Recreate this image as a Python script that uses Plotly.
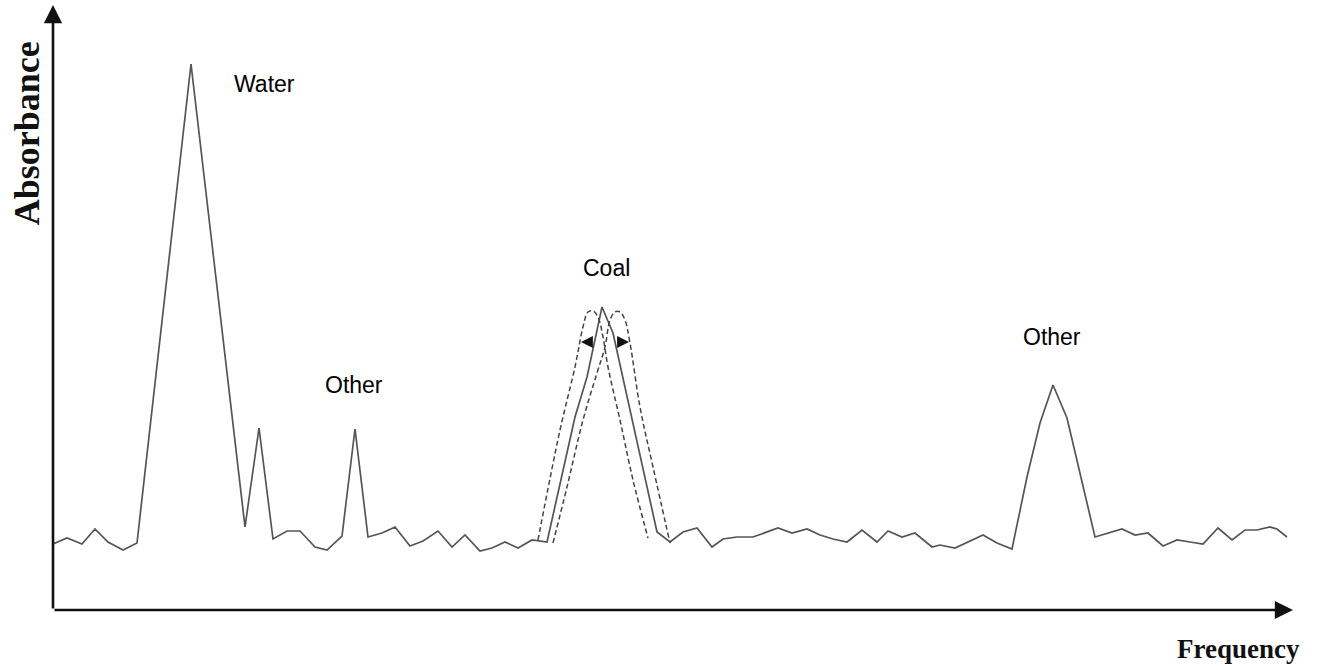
import plotly.graph_objects as go

# Spectrum (arbitrary frequency units, arbitrary absorbance units)
freq = [0.0, 1.4, 2.9, 4.2, 5.5, 7.0, 8.4, 13.8, 19.2, 20.6, 22.0, 23.4, 24.7, 26.2, 27.4, 28.9,
        30.2, 31.5, 32.9, 34.2, 35.7, 37.0, 38.5, 39.9, 41.2, 42.7, 43.9, 45.2, 46.5, 47.9, 49.4,
        52.2, 53.4, 54.9, 56.0, 60.4, 61.7, 63.0, 64.4, 65.9, 67.0, 68.4, 70.0, 71.4, 72.5, 73.9,
        75.4, 76.7, 78.0, 79.4, 80.9, 82.4, 83.5, 84.9, 86.2, 87.9, 88.7, 90.2, 91.5, 93.0, 94.4,
        95.9, 97.4, 98.7, 100.0, 101.4, 104.2, 105.5, 106.9, 108.2, 109.5, 111.0, 112.4, 113.7,
        115.0, 116.5, 117.9, 119.2, 120.4, 121.7, 122.4, 123.4]
absorb = [0.66, 0.72, 0.66, 0.81, 0.68, 0.60, 0.67, 5.46, 0.83, 1.82, 0.71, 0.79, 0.79, 0.63, 0.60, 0.74,
          1.81, 0.73, 0.77, 0.83, 0.64, 0.69, 0.79, 0.63, 0.75, 0.59, 0.62, 0.68, 0.62, 0.70, 0.68,
          1.93, 2.33, 3.03, 2.77, 0.78, 0.68, 0.78, 0.82, 0.63, 0.71, 0.73, 0.73, 0.78, 0.82, 0.77,
          0.81, 0.75, 0.71, 0.68, 0.80, 0.68, 0.79, 0.73, 0.77, 0.63, 0.65, 0.62, 0.68, 0.75, 0.67,
          0.61, 1.33, 1.87, 2.25, 1.92, 0.73, 0.77, 0.81, 0.75, 0.77, 0.64, 0.70, 0.68,
          0.66, 0.82, 0.70, 0.80, 0.80, 0.83, 0.81, 0.73]

# Shifted coal peaks (dashed)
shift_left_f = [48.5, 50.7, 52.2, 53.0, 53.5, 54.0, 54.5, 55.0, 55.5, 56.7, 58.0, 59.5]
shift_left_a = [0.70, 1.80, 2.43, 2.83, 2.98, 2.99, 2.93, 2.73, 2.43, 1.90, 1.30, 0.72]
shift_right_f = [50.0, 51.4, 53.0, 54.4, 55.2, 55.7, 56.2, 56.7, 57.2, 57.7, 58.7, 60.0, 61.7]
shift_right_a = [0.67, 1.23, 1.90, 2.37, 2.63, 2.90, 2.98, 2.98, 2.90, 2.67, 2.03, 1.43, 0.67]

# Labels
label_text = ["Water", "Other", "Coal", "Other"]
label_f = [21.1, 30.1, 55.3, 99.9]
label_a = [5.26, 2.25, 3.42, 2.73]

X_MAX = 124.0
Y_MAX = 6.05

fig = go.Figure()
fig.add_trace(go.Scatter(x=freq, y=absorb, mode="lines",
                         line=dict(color="#555555", width=1.7), hoverinfo="skip"))
for fx, ay in [(shift_left_f, shift_left_a), (shift_right_f, shift_right_a)]:
    fig.add_trace(go.Scatter(x=fx, y=ay, mode="lines", line_shape="spline",
                             line=dict(color="#444444", width=1.5, dash="5px,3px"),
                             hoverinfo="skip"))

ann = []
# axes with arrows
ann.append(dict(x=X_MAX, y=0, ax=0, ay=0, xref="x", yref="y", axref="x", ayref="y",
                showarrow=True, arrowhead=2, arrowsize=1.4, arrowwidth=2.6, arrowcolor="#111111", text=""))
ann.append(dict(x=0, y=Y_MAX, ax=0, ay=0, xref="x", yref="y", axref="x", ayref="y",
                showarrow=True, arrowhead=2, arrowsize=1.4, arrowwidth=2.6, arrowcolor="#111111", text=""))
# small shift arrows
ann.append(dict(x=52.8, y=2.68, ax=53.7, ay=2.68, xref="x", yref="y", axref="x", ayref="y",
                showarrow=True, arrowhead=2, arrowsize=1.7, arrowwidth=1.4, arrowcolor="#111111", text=""))
ann.append(dict(x=57.6, y=2.68, ax=56.7, ay=2.68, xref="x", yref="y", axref="x", ayref="y",
                showarrow=True, arrowhead=2, arrowsize=1.7, arrowwidth=1.4, arrowcolor="#111111", text=""))

sans = "Liberation Sans Narrow, Arial Narrow, Liberation Sans, Arial, sans-serif"
for t, fx, ay in zip(label_text, label_f, label_a):
    ann.append(dict(x=fx, y=ay, xref="x", yref="y", text=t, showarrow=False,
                    xanchor="center", yanchor="middle",
                    font=dict(family=sans, size=23, color="#000000")))

serif = "Liberation Serif, Times New Roman, serif"
ann.append(dict(x=-0.021, y=0.788, xref="paper", yref="paper", text="<b>Absorbance</b>",
                textangle=-90, showarrow=False, xanchor="center", yanchor="middle",
                font=dict(family=serif, size=36, color="#111111")))
ann.append(dict(x=0.956, y=-0.064, xref="paper", yref="paper", text="<b>Frequency</b>",
                showarrow=False, xanchor="center", yanchor="middle",
                font=dict(family=serif, size=27, color="#111111")))

fig.update_layout(
    width=1327, height=670,
    margin=dict(l=53, r=34, t=5, b=60, autoexpand=False),
    paper_bgcolor="white", plot_bgcolor="white",
    showlegend=False, hovermode=False,
    annotations=ann,
    xaxis=dict(range=[0, X_MAX], showgrid=False, zeroline=False, showline=False,
               showticklabels=False, ticks=""),
    yaxis=dict(range=[0, Y_MAX], showgrid=False, zeroline=False, showline=False,
               showticklabels=False, ticks=""),
)

fig.write_html("out.html", config={"displayModeBar": False},
               post_script="document.body.style.margin='0px';")
